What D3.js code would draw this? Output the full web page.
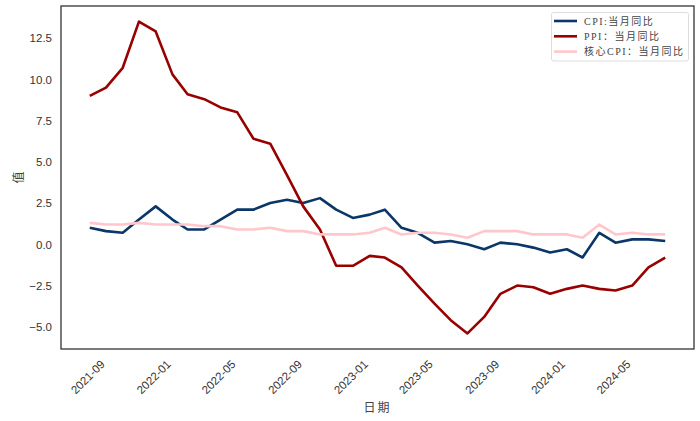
<!DOCTYPE html>
<html>
<head>
<meta charset="utf-8">
<script src="https://cdn.jsdelivr.net/npm/d3@7"></script>
<style>
  body { margin: 0; background: #fff; }
</style>
</head>
<body>
<div id="chart"></div>
<script>
// ===== monthly data, 2021-09 .. 2024-08 =====
var startMonth = "2021-09";
var cpi = [1.0, 0.8, 0.7, 1.5, 2.3, 1.5, 0.9, 0.9, 1.5, 2.1, 2.1, 2.5, 2.7, 2.5, 2.8, 2.1, 1.6, 1.8,
           2.1, 1.0, 0.7, 0.1, 0.2, 0.0, -0.3, 0.1, 0.0, -0.2, -0.5, -0.3, -0.8, 0.7, 0.1, 0.3, 0.3, 0.2];
var ppi = [9.0, 9.5, 10.7, 13.5, 12.9, 10.3, 9.1, 8.8, 8.3, 8.0, 6.4, 6.1, 4.2, 2.3, 0.9, -1.3, -1.3, -0.7,
           -0.8, -1.4, -2.5, -3.6, -4.6, -5.4, -4.4, -3.0, -2.5, -2.6, -3.0, -2.7, -2.5, -2.7, -2.8, -2.5, -1.4, -0.8];
var coreCpi = [1.3, 1.2, 1.2, 1.3, 1.2, 1.2, 1.2, 1.1, 1.1, 0.9, 0.9, 1.0, 0.8, 0.8, 0.6, 0.6, 0.6, 0.7,
               1.0, 0.6, 0.7, 0.7, 0.6, 0.4, 0.8, 0.8, 0.8, 0.6, 0.6, 0.6, 0.4, 1.2, 0.6, 0.7, 0.6, 0.6];
var seriesNames = ["CPI:当月同比", "PPI：当月同比", "核心CPI：当月同比"];
var xTickLabels = ["2021-09", "2022-01", "2022-05", "2022-09", "2023-01", "2023-05", "2023-09", "2024-01", "2024-05"];
var yTicks = [-5.0, -2.5, 0.0, 2.5, 5.0, 7.5, 10.0, 12.5];

function draw()
{
  var w = 700;
  var h = 421;
  var left = 61, right = 694, top = 6, bottom = 349;

  var parse = d3.timeParse("%Y-%m");
  var t0 = parse(startMonth);
  var dates = cpi.map(function(d, i) { return d3.timeMonth.offset(t0, i); });

  var svg = d3.select("#chart")
              .append("svg")
              .attr("width", w)
              .attr("height", h);

  // matplotlib style 5% margins
  var tMin = +dates[0], tMax = +dates[dates.length - 1];
  var tPad = (tMax - tMin) * 0.05;
  var x = d3.scaleTime()
            .domain([new Date(tMin - tPad), new Date(tMax + tPad)])
            .range([left, right]);

  var all = cpi.concat(ppi, coreCpi);
  var yMin = d3.min(all), yMax = d3.max(all);
  var yPad = (yMax - yMin) * 0.05;
  var y = d3.scaleLinear()
            .domain([yMin - yPad, yMax + yPad])
            .range([bottom, top]);

  var serifFont = "'Liberation Serif', 'DejaVu Serif', 'Noto Sans CJK SC', serif";

  // y ticks
  svg.append("g")
     .attr("transform", "translate(" + left + ",0)")
     .call(d3.axisLeft(y).tickValues(yTicks).tickSize(0).tickPadding(9)
             .tickFormat(d3.format(".1f")))
     .call(function(g) {
       g.select(".domain").remove();
       g.selectAll("text")
        .attr("font-family", "'Liberation Sans', Arial, sans-serif")
        .attr("font-size", "11.5px")
        .attr("fill", "#333")
        .text(function(d) { return d3.format(".1f")(d).replace("-", "\u2212"); });
     });

  // x ticks, rotated 45 and centred under the tick
  var xg = svg.append("g");
  xg.selectAll("text")
    .data(xTickLabels)
    .enter()
    .append("text")
    .attr("transform", function(d) {
      return "translate(" + (x(parse(d)) - 2) + "," + (bottom + 28) + ") rotate(-45)";
    })
    .attr("text-anchor", "middle")
    .attr("dominant-baseline", "central")
    .attr("font-family", "'Liberation Sans', Arial, sans-serif")
    .attr("font-size", "11.5px")
    .attr("fill", "#333")
    .text(function(d) { return d; });

  // lines
  var colors = ["#0a3668", "#990000", "#ffc7cc"];
  var series = [cpi, ppi, coreCpi];
  var line = d3.line()
               .x(function(d, i) { return x(dates[i]); })
               .y(function(d) { return y(d); });

  // draw order: CPI, PPI, core (core on top)
  series.forEach(function(s, k) {
    svg.append("path")
       .datum(s)
       .attr("fill", "none")
       .attr("stroke", colors[k])
       .attr("stroke-width", 2.6)
       .attr("stroke-linejoin", "round")
       .attr("d", line);
  });

  // frame
  svg.append("rect")
     .attr("x", left)
     .attr("y", top)
     .attr("width", right - left)
     .attr("height", bottom - top)
     .attr("fill", "none")
     .attr("stroke", "#333")
     .attr("stroke-width", 1.3);

  // axis titles
  svg.append("text")
     .attr("x", (left + right) / 2)
     .attr("y", 412)
     .attr("text-anchor", "middle")
     .attr("font-family", serifFont)
     .attr("font-size", "12px")
     .attr("fill", "#444")
     .attr("letter-spacing", "2px")
     .text("日期");

  svg.append("text")
     .attr("transform", "translate(23," + ((top + bottom) / 2) + ") rotate(-90)")
     .attr("text-anchor", "middle")
     .attr("font-family", serifFont)
     .attr("font-size", "12px")
     .attr("fill", "#444")
     .text("值");

  // legend
  var lg = svg.append("g");
  lg.append("rect")
    .attr("x", 551.5)
    .attr("y", 12.5)
    .attr("width", 137)
    .attr("height", 48.5)
    .attr("rx", 2)
    .attr("fill", "#fff")
    .attr("stroke", "#ddd")
    .attr("stroke-width", 1);

  seriesNames.forEach(function(name, k) {
    var ly = 21 + k * 15.3;
    lg.append("line")
      .attr("x1", 554).attr("x2", 577)
      .attr("y1", ly).attr("y2", ly)
      .attr("stroke", colors[k])
      .attr("stroke-width", 2.6);
    lg.append("text")
      .attr("x", 584)
      .attr("y", ly)
      .attr("dominant-baseline", "central")
      .attr("font-family", serifFont)
      .attr("font-size", "10px")
      .attr("letter-spacing", "1.5px")
      .attr("fill", "#444")
      .text(name);
  });
}

window.onload = draw;
</script>
</body>
</html>
